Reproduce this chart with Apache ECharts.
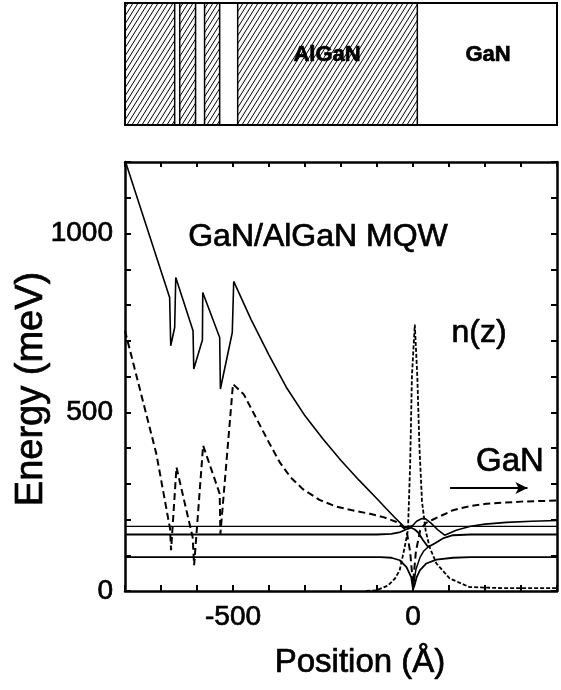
<!DOCTYPE html>
<html>
<head>
<meta charset="utf-8">
<script src="https://cdn.jsdelivr.net/npm/echarts@6/dist/echarts.min.js"></script>
<style>
  html, body { margin: 0; padding: 0; background: #fff; }
  #chart { width: 561px; height: 690px; }
</style>
</head>
<body>
<div id="chart"></div>
<script>
// layer structure (position in Angstrom) for the schematic on top
const hatchLayers = [[-800, -662], [-648, -604], [-579, -537], [-487, 12]];

// conduction band profile (solid)
const condBand = [
  [-800, 1205], [-676, 821], [-673, 686], [-662, 737], [-659, 877],
  [-611, 728], [-609, 621], [-585, 702], [-584, 835], [-537, 709],
  [-535, 565], [-502, 723], [-498, 866], [-450, 760], [-400, 660],
  [-352, 570], [-300, 490], [-250, 425], [-200, 365], [-150, 310],
  [-100, 258], [-74, 230], [-50, 205], [-23, 178], [-10, 180], [0, 184],
  [10, 195], [25, 203], [35, 202], [50, 190], [70, 170], [88, 156],
  [120, 170], [160, 181], [200, 187], [260, 192], [330, 195], [400, 197]
];
const level181 = [[-800, 181], [400, 181]];
const curve158 = [
  [-800, 158], [-100, 158], [-60, 160], [-35, 165], [-15, 174], [-5, 177],
  [5, 172], [15, 163], [28, 142], [42, 123], [60, 133], [85, 148],
  [111, 156], [160, 158], [400, 158]
];
const curve95 = [
  [-800, 95], [-90, 95], [-60, 93], [-37, 86], [-18, 67], [-5, 39], [0, 5],
  [4, 15], [10, 38], [19, 58], [37, 77], [65, 88], [111, 93], [160, 95], [400, 95]
];
const fanCurve = [[0, 5], [8, 60], [20, 95], [30, 112], [42, 123]];

// dashed band profile
const dashBand = [
  [-800, 728], [-713, 384], [-675, 175], [-672, 114], [-657, 346],
  [-612, 150], [-608, 72], [-583, 407], [-537, 272], [-535, 160],
  [-500, 579], [-470, 550], [-444, 500], [-400, 415], [-370, 360],
  [-340, 318], [-306, 285], [-260, 255], [-213, 236], [-160, 224],
  [-120, 216], [-80, 206], [-46, 193], [-18, 170], [-8, 110], [0, 20],
  [8, 110], [20, 170], [35, 190], [56, 200], [111, 226], [160, 238],
  [204, 244], [300, 250], [400, 253]
];

// electron density n(z)
const nz = [
  [-130, 0], [-102, 2], [-70, 15], [-50, 35], [-37, 58], [-23, 123],
  [-14, 170], [-8, 350], [-3, 600], [5, 745], [12, 600], [18, 400],
  [25, 250], [35, 170], [46, 123], [65, 77], [102, 35], [157, 11],
  [250, 8], [400, 8]
];

const xLabels = [-500, 0];
const yLabels = [0, 500, 1000];

const FONT = 'Liberation Sans, Arial, Helvetica, sans-serif';

// hatch pattern "////"
const TW = 5, TH = 8;
const tile = document.createElement('canvas');
tile.width = TW; tile.height = TH;
const tctx = tile.getContext('2d');
tctx.strokeStyle = '#000';
tctx.lineWidth = 1;
tctx.beginPath();
for (let k = -1; k <= 1; k++) {
  tctx.moveTo(k * TW, TH);
  tctx.lineTo(k * TW + TW, 0);
}
tctx.stroke();

const chart = echarts.init(document.getElementById('chart'));

function line(data, width, type) {
  return {
    type: 'line', data: data, xAxisIndex: 0, yAxisIndex: 0,
    showSymbol: false, symbol: 'none', animation: false, silent: true,
    lineStyle: { color: '#000', width: width, type: type || 'solid' },
    z: 3
  };
}

function label(text, x, y, font, extra) {
  return Object.assign({
    type: 'text', x: x, y: y, z: 10,
    style: {
      text: text, font: font + ' ' + FONT, fill: '#000',
      stroke: '#000', lineWidth: 0.7,
      align: 'center', verticalAlign: 'middle',
      textAlign: 'center', textVerticalAlign: 'middle'
    }
  }, extra || {});
}

const axisLine = { show: true, onZero: false, lineStyle: { color: '#000', width: 2.5 } };
const tickStyle = { show: true, inside: true, length: 6, lineStyle: { color: '#000', width: 2 } };
const tickLabel = {
  color: '#000', fontSize: 28, fontFamily: FONT, margin: 12,
  textBorderColor: '#000', textBorderWidth: 0.7
};

chart.setOption({
  backgroundColor: '#fff',
  animation: false,
  grid: [
    { left: 125, right: 4, top: 162, bottom: 99 },
    { left: 125, right: 4, top: 3, height: 122, show: true, borderColor: '#000', borderWidth: 2, backgroundColor: '#fff' }
  ],
  xAxis: [
    {
      type: 'value', gridIndex: 0, min: -800, max: 400, interval: 100,
      axisLine: axisLine, axisTick: tickStyle, splitLine: { show: false },
      axisLabel: Object.assign({}, tickLabel, {
        formatter: v => (xLabels.indexOf(v) >= 0 ? String(v) : '')
      })
    },
    {
      type: 'value', gridIndex: 0, position: 'top', min: -800, max: 400, interval: 100,
      axisLine: axisLine, axisTick: Object.assign({}, tickStyle, { length: 5 }),
      axisLabel: { show: false }, splitLine: { show: false }
    },
    {
      type: 'value', gridIndex: 1, min: -800, max: 400, show: false
    }
  ],
  yAxis: [
    {
      type: 'value', gridIndex: 0, min: 0, max: 1200, interval: 100,
      axisLine: axisLine, axisTick: tickStyle, splitLine: { show: false },
      axisLabel: Object.assign({}, tickLabel, {
        formatter: v => (yLabels.indexOf(v) >= 0 ? String(v) : '')
      })
    },
    {
      type: 'value', gridIndex: 0, position: 'right', min: 0, max: 1200, interval: 100,
      axisLine: axisLine, axisTick: tickStyle,
      axisLabel: { show: false }, splitLine: { show: false }
    },
    {
      type: 'value', gridIndex: 1, min: 0, max: 1, show: false
    }
  ],
  series: [
    {
      type: 'custom', xAxisIndex: 2, yAxisIndex: 2, data: hatchLayers, silent: true,
      renderItem: function (params, api) {
        const p0 = api.coord([api.value(0), 1]);
        const p1 = api.coord([api.value(1), 0]);
        return {
          type: 'rect',
          shape: { x: p0[0], y: p0[1], width: p1[0] - p0[0], height: p1[1] - p0[1] },
          style: { fill: { image: tile, repeat: 'repeat' }, stroke: '#000', lineWidth: 1.5 }
        };
      }
    },
    line(condBand, 1.6),
    line(level181, 1.2),
    line(curve158, 1.8),
    line(curve95, 1.8),
    line(fanCurve, 1.5),
    line(dashBand, 2, [7, 4]),
    Object.assign(line(nz, 1.8, [4, 2]), {
      markLine: {
        silent: true, symbol: ['none', 'arrow'], symbolSize: [9, 12],
        label: { show: false },
        lineStyle: { color: '#000', width: 1.8, type: 'solid' },
        data: [[{ coord: [103, 288] }, { coord: [318, 288] }]]
      }
    })
  ],
  graphic: [
    label('AlGaN', 327, 55, 'bold 22px'),
    label('GaN', 488, 55, 'bold 22px'),
    label('GaN/AlGaN MQW', 318, 237, '32px'),
    label('n(z)', 479, 333, '32px'),
    label('GaN', 510, 462, '33px'),
    label('Position (Å)', 360, 663, '33px'),
    label('Energy (meV)', 32, 389, '38px', { rotation: Math.PI / 2 })
  ]
});
</script>
</body>
</html>
